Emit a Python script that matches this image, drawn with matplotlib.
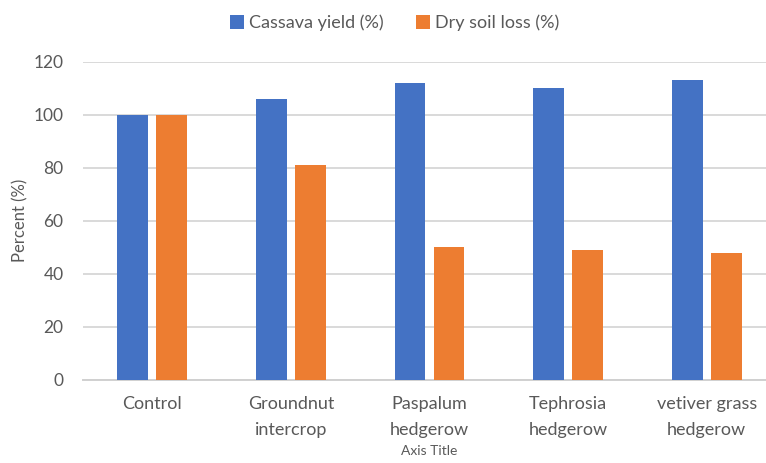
import matplotlib
matplotlib.use("Agg")
import matplotlib.pyplot as plt
import numpy as np

categories = ["Control", "Groundnut\nintercrop", "Paspalum\nhedgerow", "Tephrosia\nhedgerow", "vetiver grass\nhedgerow"]
cassava_yield = [100, 106, 112, 110, 113]
dry_soil_loss = [100, 81, 50, 49, 48]
y_ticks = [0, 20, 40, 60, 80, 100, 120]

blue = "#4472C4"
orange = "#ED7D31"
text_color = "#595959"

plt.rcParams["font.family"] = ["Lato", "DejaVu Sans"]

fig = plt.figure(figsize=(7.66, 4.63), dpi=100)
ax = fig.add_axes([83 / 766, 83.3 / 463, 693 / 766, 318 / 463])

x = np.arange(len(categories))
width = 0.223
offset = 0.1405
ax.bar(x - offset, cassava_yield, width, color=blue, label="Cassava yield (%)", zorder=3)
ax.bar(x + offset, dry_soil_loss, width, color=orange, label="Dry soil loss (%)", zorder=3)

ax.set_xlim(-0.5, len(categories) - 0.5)
ax.set_ylim(0, 120)
ax.set_yticks(y_ticks)
ax.set_xticks(x)
ax.set_xticklabels(categories, fontsize=13, color=text_color, linespacing=1.75)
ax.tick_params(axis="y", labelsize=12.5, colors=text_color, length=0, pad=14)
ax.tick_params(axis="x", length=0, pad=12)
ax.yaxis.grid(True, color="#d9d9d9", linewidth=1.4, zorder=0)
ax.set_axisbelow(True)
for side in ["top", "right", "left"]:
    ax.spines[side].set_visible(False)
ax.spines["bottom"].set_color("#d0d0d0")
ax.spines["bottom"].set_linewidth(1.4)

ax.set_ylabel("Percent (%)", fontsize=12, color=text_color, labelpad=4)
ax.set_xlabel("Axis Title", fontsize=10, color=text_color, va="center")
ax.xaxis.set_label_coords((429 - 83) / 693, (379.7 - 451) / 318)

fig.legend(loc="center", bbox_to_anchor=(395 / 766, 1 - 23 / 463), ncol=2, frameon=False,
           fontsize=13, labelcolor=text_color, handlelength=0.75, handleheight=0.75,
           handletextpad=0.3, columnspacing=1.8)

fig.savefig("out.png", dpi=100)
